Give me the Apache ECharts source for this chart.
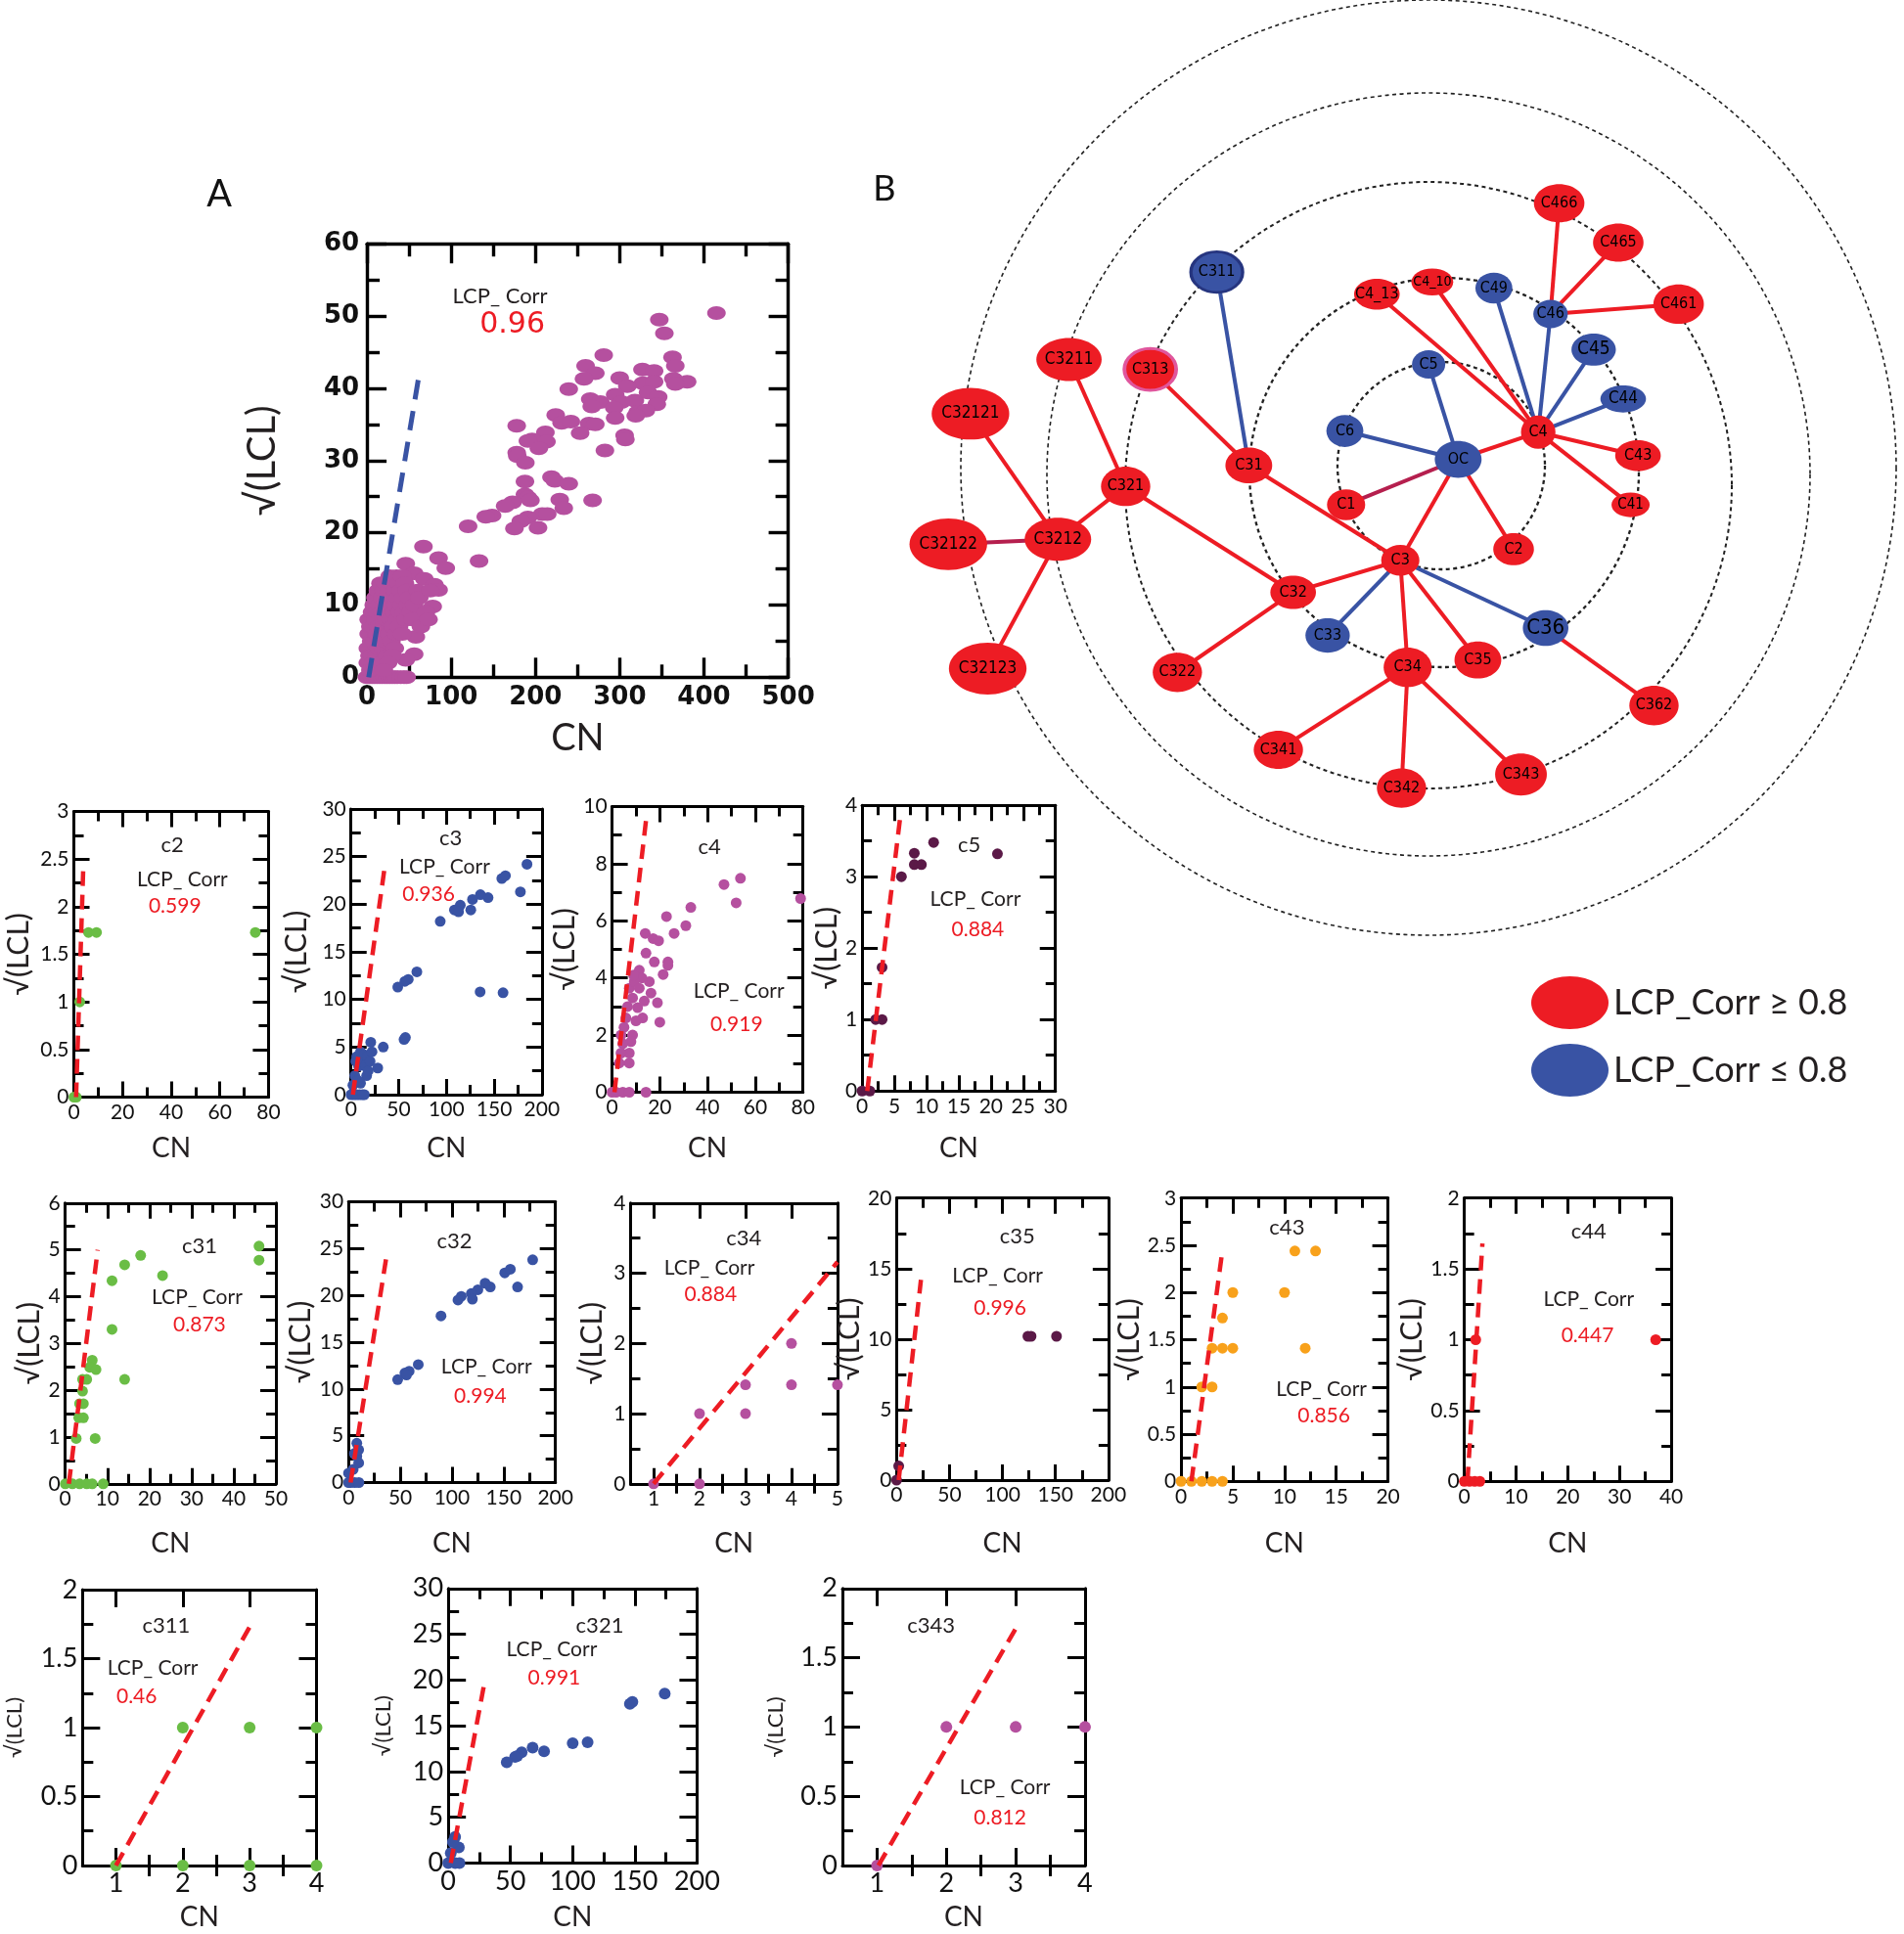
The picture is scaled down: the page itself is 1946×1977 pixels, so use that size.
<!DOCTYPE html>
<html>
<head>
<meta charset="utf-8">
<script src="https://cdn.jsdelivr.net/npm/echarts@6/dist/echarts.min.js"></script>
<style>
html,body{margin:0;padding:0;background:#fff;}
#chart{width:1946px;height:1977px;}
</style>
</head>
<body>
<div id="chart"></div>
<script>
// ======================= DATA =======================
// Panel A : all clusters
const mainPoints = [
 [414.8,50.4],[347,49.5],[353,47.6],[362.7,44.3],[366,43.1],[363.7,41.3],[380,40.9],[366,40.6],[281,44.6],[259.5,43.1],
 [271,42.1],[257.6,41.3],[239.5,39.9],[300,41.4],[327,42.6],[340.8,42.4],[327.5,40.7],[340.8,40.9],[309,40.3],[294.6,39.1],
 [302,38.1],[318,38.3],[333.6,39.4],[345.7,38.8],[344,37.8],[265,38.5],[277,38.1],[266.8,37.5],[293.5,37.3],[294.6,35.9],
 [321.4,36.7],[331,36.9],[319,36.2],[224,36.3],[231,35.2],[242,35.4],[263.6,35.1],[271,35.0],[253,33.8],[305.8,33.5],
 [306.7,32.9],[177.7,34.8],[211.8,33.9],[196,32.9],[191,32.7],[213,32.6],[204,31.7],[282.4,31.4],[177.7,31.1],[178.5,30.6],
 [188,29.7],[219,27.7],[223,27.2],[239.5,26.8],[187.5,27.1],[187.5,25.3],[191,24.9],[194,24.5],[172.8,24.2],[164,23.7],
 [228.8,24.6],[233.6,23.4],[267.8,24.5],[208,22.6],[214,22.6],[191,22.1],[182.6,21.6],[175,20.6],[203,20.7],[148.5,22.4],
 [141,22.2],[120,20.9],[133,16.1],[67,18.1],[85,16.5],[93.5,15.1],[46,15.7],[44,13.6],[56,14.4],[68,13.6],
 [80,12.8],[85,12.1],[78,9.8],[68,8.5],[58,5.6],[56,3.2],[46,2.4],
 [0,0],[3,0],[6,0],[9,0],[12,0],[15,0],[18,0],[21,0],[24,0],[27,0],[30,0],[33,0],[36,0],[40,0],[44,0],[47,0],
 [1,2],[1,4],[2,6],[2,8],[3,3],[4,7],[4,1],[5,5],[6,9],[6,3],[7,7],[8,2],[8,10],[9,5],[10,8],[10,11],[11,3],[12,6],
 [12,9],[13,12],[14,4],[14,7],[15,10],[16,2],[16,13],[17,6],[18,9],[18,11],[19,4],[20,7],[20,12],[21,10],[22,5],[22,13],
 [23,8],[24,11],[24,3],[25,9],[26,6],[26,12],[27,14],[28,8],[28,10],[29,5],[30,11],[30,13],[31,7],[32,9],[33,12],[33,4],
 [34,10],[35,14],[35,6],[36,8],[37,11],[38,13],[38,7],[39,9],[40,12],[41,10],[42,14],[42,6],[43,11],[44,9],[45,13],[46,8],
 [47,12],[48,10],[50,11],[52,9],[54,8],[56,10],[60,12],[62,11],[64,7],[70,9],[73,8],[75,12],[30,3],[25,2],[20,1]
];
const mainFit = [[2,0],[62,42]];
const mainCorr = '0.96';

const c2Points = [[0,0],[1,0],[2.4,1],[6,1.73],[9.3,1.73],[74.6,1.73]];
const c2Fit = [[0.9,0],[3.9,2.45]];
const c3Points = [[184.4,24.2],[158,22.7],[161.8,23.0],[177.5,21.3],[143.6,20.7],[135.6,21.0],[127.3,20.5],[125.5,19.4],
 [114.5,19.9],[108.4,19.4],[112.7,19.2],[93.5,18.2],[69,12.9],[60,12.1],[56.4,11.9],[49,11.3],[135.3,10.8],[159.3,10.7],
 [55.6,5.8],[57,6.0],[33.8,5.0],[20.7,5.5],[28,2.8],[16.4,2.0],[0,0],[3,0],[6,0],[9,0],[12,0],[14,0],[2,1],[4,2],
 [5,3.5],[6,4],[8,3],[10,4.5],[12,3.5],[14,4.2],[15,3],[17,4],[18,2.5],[20,3.5],[22,4.5],[10,1.2],[7,1.5]];
const c3Fit = [[2,0],[36,24.4]];
const c4Points = [[79,6.78],[53.8,7.49],[46.9,7.27],[52,6.63],[33,6.47],[22.8,6.15],[30.9,5.83],[26,5.56],[13.9,5.56],
 [17.2,5.38],[19.5,5.30],[23.4,4.56],[23.4,4.44],[21.4,4.12],[19,3.13],[20,2.45],[14.2,4.87],[11.4,4.27],[15.6,3.87],
 [16.3,3.47],[17.7,4.56],[12.5,4.0],[7.2,1.02],[3,1.02],[7.2,1.37],[3.75,2],[8.6,2],[12.8,2.6],[10.7,2.96],[8.6,3.3],
 [7.2,3.64],[9.3,3.87],[13.5,3.19],[5.8,2.6],[5,2.27],[3.75,1.37],[7.9,1.77],[11.4,3.64],[6.5,3.0],[10,2.5],[9,4.1],
 [4.5,1.7],[0,0],[1.7,0],[4.5,0],[7.2,0],[14.2,0]];
const c4Fit = [[1,0],[14.2,9.5]];
const c5Points = [[0,0],[1.2,0],[2.1,1],[3.1,1],[3.1,1.73],[6.1,3],[8.1,3.33],[8.1,3.17],[9.2,3.17],[11.1,3.48],[21,3.32]];
const c5Fit = [[0.8,0],[6,3.9]];
const c31Points = [[46,5.08],[46,4.78],[17.9,4.88],[14.1,4.68],[23.1,4.45],[11.1,4.34],[11.1,3.3],[14.1,2.23],[6.4,2.64],
 [5.8,2.49],[7.3,2.44],[4.1,2.23],[5.1,2.23],[4.1,1.98],[3.4,1.71],[4.3,1.71],[3.2,1.41],[4.3,1.41],[2.6,0.97],[7.1,0.97],
 [0,0],[1.7,0],[3.4,0],[5.1,0],[6.4,0],[9,0]];
const c31Fit = [[0.85,0],[7.7,5]];
const c32Points = [[178,23.8],[151,22.4],[156.4,22.8],[163.4,20.9],[137,20.9],[132,21.3],[125,20.6],[118.7,20.2],[119.7,19.6],
 [109,19.9],[105.8,19.5],[89.4,17.8],[67.4,12.6],[58.6,11.9],[54.5,11.7],[56,11.5],[47.5,11.0],[2,0],[6,0],[10,0],
 [4.5,1.4],[8,2.8],[5.6,3.1],[9.8,3.5],[8,4.2],[9.8,2.1],[0,1],[0,0]];
const c32Fit = [[2,0],[37,24.4]];
const c34Points = [[1,0],[2,0],[2,1],[3,1.41],[3,1],[4,2],[4,1.41],[5,1.41]];
const c34Fit = [[1,0],[5,3.16]];
const c35Points = [[0,0],[2,1],[124,10.2],[127,10.2],[151,10.2]];
const c35Fit = [[2,0],[23,14.2]];
const c43Points = [[0,0],[1,0],[2,0],[3,0],[4,0],[2,1],[3,1],[3,1.41],[4,1.41],[5,1.41],[4,1.73],[5,2],[10,2],[11,2.44],[13,2.44],[12,1.41]];
const c43Fit = [[1,0],[4,2.45]];
const c44Points = [[0,0],[1,0],[2,0],[3,0],[2.2,1],[37,1]];
const c44Fit = [[0.6,0],[3.5,1.68]];
const c311Points = [[1,0],[2,0],[3,0],[4,0],[2,1],[3,1],[4,1]];
const c311Fit = [[1,0],[3,1.73]];
const c321Points = [[174,18.5],[146,17.4],[148,17.6],[112,13.2],[100,13.1],[77,12.2],[67.8,12.6],[59,12.1],[55.5,11.7],
 [53.7,11.6],[47,11.0],[0,0],[5.5,0],[9,0],[5.5,2.85],[8.5,1.7],[2,1.1],[3.7,2.3]];
const c321Fit = [[2,0],[29.6,20.1]];
const c343Points = [[1,0],[2,1],[3,1],[4,1]];
const c343Fit = [[1.02,0],[3,1.71]];

const smallNames = ['c2','c3','c4','c5','c31','c32','c34','c35','c43','c44','c311','c321','c343'];
const smallCorr  = ['0.599','0.936','0.919','0.884','0.873','0.994','0.884','0.996','0.856','0.447','0.46','0.991','0.812'];
const smallPoints = [c2Points,c3Points,c4Points,c5Points,c31Points,c32Points,c34Points,c35Points,c43Points,c44Points,c311Points,c321Points,c343Points];
const smallFits = [c2Fit,c3Fit,c4Fit,c5Fit,c31Fit,c32Fit,c34Fit,c35Fit,c43Fit,c44Fit,c311Fit,c321Fit,c343Fit];
// axis ranges [min, max, interval]
const axisX = {A:[0,500,100], c2:[0,80,20], c3:[0,200,50], c4:[0,80,20], c5:[0,30,5], c31:[0,50,10], c32:[0,200,50],
 c34:[0.5,5,null], c35:[0,200,50], c43:[0,20,5], c44:[0,40,10], c311:[0.5,4,null], c321:[0,200,50], c343:[0.5,4,null]};
const axisY = {A:[0,60,10], c2:[0,3,0.5], c3:[0,30,5], c4:[0,10,2], c5:[0,4,1], c31:[0,6,1], c32:[0,30,5],
 c34:[0,4,1], c35:[0,20,5], c43:[0,3,0.5], c44:[0,2,0.5], c311:[0,2,0.5], c321:[0,30,5], c343:[0,2,0.5]};
const customXTicks = {c34:[1,2,3,4,5], c311:[1,2,3,4], c343:[1,2,3,4]};
const customXMinor = {c34:[1.5,2.5,3.5,4.5], c311:[1.5,2.5,3.5], c343:[1.5,2.5,3.5]};

// Panel B : network
const nodeNames = ['OC','C1','C2','C3','C4','C5','C6','C31','C32','C33','C34','C35','C36','C41','C43','C44','C45','C46','C49','C4_10','C4_13',
 'C311','C313','C321','C322','C341','C342','C343','C362','C461','C465','C466','C3211','C3212','C32121','C32122','C32123'];
const nodeX = [1184,1093,1229,1137,1249,1160,1092,1014,1050,1078,1143,1200,1255,1324,1330,1318,1294,1259,1213,1163,1118,
 988,934,914,956,1038,1138,1235,1343,1363,1314,1266,868,859,788,770,802];
const nodeY = [373,410,446,455,351,296,350,378,481,516,542,536,510,410,370,324,284,255,234,229,239,
 221,300,395,546,609,640,629,573,247,197,165,292,438,336,442,543];
const nodeHighCorr = [0,1,1,1,1,0,0,1,1,0,1,1,0,1,1,0,0,0,0,1,1, 0,1,1,1,1,1,1,1,1,1,1,1,1,1,1,1];
const edgeSource = ['OC','OC','OC','OC','OC','OC','C4','C4','C4','C4','C4','C4','C4','C4','C46','C46','C46',
 'C3','C3','C3','C3','C3','C3','C31','C31','C32','C32','C321','C321','C3212','C3212','C3212','C34','C34','C34','C36'];
const edgeTarget = ['C1','C2','C3','C4','C5','C6','C4_13','C4_10','C49','C46','C45','C44','C43','C41','C466','C465','C461',
 'C31','C32','C33','C34','C35','C36','C311','C313','C321','C322','C3211','C3212','C32121','C32122','C32123','C341','C342','C343','C362'];
const legendLabels = ['LCP_Corr \u2265 0.8','LCP_Corr \u2264 0.8'];

// ======================= LAYOUT & STYLE =======================
const S = 1946 / 1546;
const INK = '#231f20', RED = '#ed1c24', BLUE = '#3953a4', GREEN = '#6abd45', MAG = '#b5509f', PURP = '#5b1947', ORANGE = '#f8a11b';
const FONT_H = "Lato, 'Open Sans', sans-serif";
const FONT_G = "'DejaVu Sans', sans-serif";
const FONT_N = "'Liberation Sans Narrow', 'DejaVu Sans Condensed', 'Roboto', sans-serif";
const ELL = 'path://M1,0C1.552,0,2,0.448,2,1C2,1.552,1.552,2,1,2C0.448,2,0,1.552,0,1C0,0.448,0.448,0,1,0Z';

const panelLayout = {
 c2:  {box:[60,659,218,891],  row:1, yNameX:15,  label:[140,686], lcp:[148,714], val:[142,736], color:GREEN},
 c3:  {box:[285,657,440,889], row:1, yNameX:241, label:[366,681], lcp:[361,704], val:[348,726], color:BLUE},
 c4:  {box:[497,655,652,887], row:1, yNameX:467, label:[576,688], lcp:[600,805], val:[598,832], color:MAG},
 c5:  {box:[700,654,857,886], row:1, yNameX:675, label:[787,686], lcp:[792,730], val:[794,755], color:PURP},
 c31: {box:[53,977,224,1205], row:2, yNameX:25,  label:[162,1012], lcp:[160,1054], val:[162,1076], color:GREEN},
 c32: {box:[283,976,451,1204], row:2, yNameX:244, label:[369,1008], lcp:[395,1110], val:[390,1134], color:BLUE},
 c34: {box:[512,977,680,1205], row:2, yNameX:481, label:[604,1006], lcp:[576,1030], val:[577,1051], color:MAG},
 c35: {box:[728,973,900,1202], row:2, yNameX:698, label:[826,1004], lcp:[810,1036], val:[812,1062], color:PURP},
 c43: {box:[959,973,1127,1203], row:2, yNameX:919, label:[1045,997], lcp:[1073,1128], val:[1075,1150], color:ORANGE},
 c44: {box:[1189,973,1357,1203], row:2, yNameX:1147, label:[1290,1000], lcp:[1290,1055], val:[1289,1085], color:RED},
 c311:{box:[67,1291,257,1515], row:3, yNameX:12,  label:[135,1320], lcp:[124,1355], val:[111,1378], color:GREEN},
 c321:{box:[364,1290,566,1513], row:3, yNameX:311, label:[487,1320], lcp:[448,1340], val:[450,1363], color:BLUE},
 c343:{box:[684,1290,881,1515], row:3, yNameX:630, label:[756,1320], lcp:[816,1452], val:[812,1476], color:MAG}
};
const rowStyle = {
 1:{xNameY:933, fs:21, yFs:30, xFs:28, major:16, minor:10, sym:11},
 2:{xNameY:1254, fs:21, yFs:30, xFs:28, major:16, minor:10, sym:11},
 3:{xNameY:1557, fs:27, yFs:22, xFs:28, major:18, minor:11, sym:12}
};

const nodeSize = {OC:[38,30],C1:[31,25],C2:[33,26],C3:[31,25],C4:[28,27],C5:[27,23],C6:[30,26],C31:[38,29],C32:[37,27],
 C33:[36,28],C34:[39,32],C35:[38,30],C36:[37,29],C41:[31,20],C43:[37,25],C44:[37,22],C45:[36,26],C46:[28,23],C49:[30,25],
 C4_10:[34,22],C4_13:[37,25],C311:[42,33],C313:[42,34],C321:[40,32],C322:[40,32],C341:[40,31],C342:[40,32],C343:[42,34],
 C362:[40,32],C461:[41,32],C465:[41,31],C466:[41,31],C3211:[53,35],C3212:[54,35],C32121:[63,42],C32122:[63,42],C32123:[63,42]};
const nodeLabelSize = {C36:22, C45:19, C44:17, C4_10:14, C41:15, C3211:17, C3212:17, C32121:17, C32122:17, C32123:17};
const nodeBorder = {C311:{borderColor:'#26357f', borderWidth:3}, C313:{borderColor:'#e0569d', borderWidth:3.5}};
const edgeTint = {'OC-C1':'#b51f4e', 'C3212-C32122':'#b51f4e'};
const rings = [ // center x, center y, radius (page px), line width
 [1473,476,106,2.3],[1476,483,199,2.3],[1460,496,310,2],[1460,485,390,1.6],[1460,478,478,1.6]
];

// ======================= BUILD =======================
const option = {animation:false, backgroundColor:'#fff', textStyle:{fontFamily:FONT_H},
 grid:[], xAxis:[], yAxis:[], polar:[], angleAxis:[], radiusAxis:[], series:[], graphic:[]};

function addPanel(p){
  const gi = option.grid.length;
  const L = p.box[0]*S, T = p.box[1]*S, R = p.box[2]*S, B = p.box[3]*S;
  option.grid.push({left:L, top:T, width:R-L, height:B-T});
  const lineStyle = {color:'#000', width:p.lw};
  function axis(spec, pos, withLabel, ticks, name, nameFs, nameGap){
    const a = {gridIndex:gi, type:'value', position:pos, min:spec[0], max:spec[1], silent:true, z:3,
      axisLine:{show:true, onZero:false, lineStyle:lineStyle}, splitLine:{show:false},
      axisTick:{show:true, inside:true, length:p.major, lineStyle:lineStyle},
      minorTick:{show:!ticks, splitNumber:2, length:p.minor, lineStyle:lineStyle},
      axisLabel:{show:withLabel, fontFamily:p.font, fontSize:p.fs, fontWeight:p.fw||'normal', color:'#111', margin:p.margin}};
    if (ticks){ a.axisTick.customValues = ticks; a.axisLabel.customValues = ticks; }
    else a.interval = spec[2];
    if (name){ a.name = name; a.nameLocation = 'middle'; a.nameGap = nameGap;
      a.nameTextStyle = {fontFamily:FONT_H, fontSize:nameFs, color:INK}; }
    return a;
  }
  const xi = option.xAxis.length, yi = option.yAxis.length;
  option.xAxis.push(axis(p.x,'bottom',true,p.xTicks,'CN',p.xFs,(p.xNameY*S - B) - p.xFs/2));
  option.xAxis.push(axis(p.x,'top',false,p.xTicks));
  option.yAxis.push(axis(p.y,'left',true,null,'\u221A(LCL)',p.yFs,(L - p.yNameX*S) - p.yFs/2));
  option.yAxis.push(axis(p.y,'right',false,null));
  if (p.xMinor){
    for (const pos of ['bottom','top']) option.xAxis.push({gridIndex:gi, type:'value', position:pos, min:p.x[0], max:p.x[1],
      silent:true, axisLine:{show:false}, splitLine:{show:false}, axisLabel:{show:false},
      axisTick:{show:true, inside:true, length:p.minor, lineStyle:lineStyle, customValues:p.xMinor}});
  }
  option.series.push({type:'scatter', xAxisIndex:xi, yAxisIndex:yi, data:p.pts, symbol:p.sym, symbolSize:p.symSize,
    itemStyle:{color:p.color, opacity:1}, clip:false, z:4, silent:true});
  option.series.push({type:'line', xAxisIndex:xi, yAxisIndex:yi, data:p.fit, symbol:'none', clip:false, z:5, silent:true,
    lineStyle:{color:p.fitColor, width:p.fitW, type:p.dash}});
  for (const t of p.texts) option.graphic.push({type:'text', x:t[1]*S, y:t[2]*S, silent:true, z:10,
    style:{text:t[0], fill:t[4], fontSize:t[3], fontFamily:t[5], align:'center', verticalAlign:'middle'}});
}

// Panel A
addPanel({box:[298,198,640,550], x:axisX.A, y:axisY.A, pts:mainPoints, fit:mainFit, color:MAG, fitColor:BLUE,
  sym:ELL, symSize:[19,14], font:FONT_G, fs:26, fw:'bold', margin:8, major:20, minor:13, lw:3.4, fitW:5, dash:[20,12],
  yNameX:213, yFs:40, xNameY:600, xFs:38,
  texts:[['LCP_ Corr',406,241,22,INK,FONT_H],[mainCorr,416,264,30,RED,FONT_G]]});

smallNames.forEach((n,i)=>{
  const lay = panelLayout[n], rs = rowStyle[lay.row];
  addPanel({box:lay.box, x:axisX[n], y:axisY[n], xTicks:customXTicks[n], xMinor:customXMinor[n],
    pts:smallPoints[i], fit:smallFits[i], color:lay.color, fitColor:RED, sym:'circle', symSize:rs.sym,
    font:FONT_H, fs:rs.fs, margin:5, major:rs.major, minor:rs.minor, lw:3, fitW:4.5, dash:[15,9],
    yNameX:lay.yNameX, yFs:rs.yFs, xNameY:rs.xNameY, xFs:rs.xFs,
    texts:[[n,lay.label[0],lay.label[1],22,INK,FONT_H],['LCP_ Corr',lay.lcp[0],lay.lcp[1],21,INK,FONT_H],
           [smallCorr[i],lay.val[0],lay.val[1],21,RED,FONT_H]]});
});

// panel letters
option.graphic.push({type:'text', x:178*S, y:158*S, silent:true, style:{text:'A', fill:'#111', fontSize:38, fontFamily:FONT_H, align:'center', verticalAlign:'middle'}});
option.graphic.push({type:'text', x:718*S, y:154*S, silent:true, style:{text:'B', fill:'#111', fontSize:36, fontFamily:FONT_H, align:'center', verticalAlign:'middle'}});

// Panel B rings
rings.forEach((r,i)=>{
  option.polar.push({center:[r[0], r[1]], radius:r[2]});
  option.angleAxis.push({polarIndex:i, type:'value', min:0, max:360, silent:true,
    axisLine:{show:true, lineStyle:{color:'#222', width:r[3], type:[4,3.5]}},
    axisTick:{show:false}, axisLabel:{show:false}, splitLine:{show:false}});
  option.radiusAxis.push({polarIndex:i, type:'value', axisLine:{show:false}, axisTick:{show:false}, axisLabel:{show:false}, splitLine:{show:false}});
});

// Panel B network on a hidden cartesian frame
const ng = option.grid.length;
option.grid.push({left:700*S, top:0, width:846*S, height:730*S});
const nx = option.xAxis.length, ny = option.yAxis.length;
option.xAxis.push({gridIndex:ng, type:'value', min:700, max:1546, show:false});
option.yAxis.push({gridIndex:ng, type:'value', min:0, max:730, inverse:true, show:false});
option.series.push({
  type:'graph', layout:'none', coordinateSystem:'cartesian2d', xAxisIndex:nx, yAxisIndex:ny, silent:true, z:6,
  categories: legendLabels.map((n,i)=>({name:n, symbol:ELL, itemStyle:{color: i===0 ? RED : BLUE}})),
  data: nodeNames.map((n,i)=>({name:n, value:[nodeX[i], nodeY[i]], category: nodeHighCorr[i] ? 0 : 1,
     symbol:ELL, symbolSize: nodeSize[n].map(v=>v*S), itemStyle: nodeBorder[n] || {},
     label:{fontSize: nodeLabelSize[n] || 16}})),
  links: edgeSource.map((s,i)=>{
     const t = edgeTarget[i];
     const c = edgeTint[s+'-'+t] || (nodeHighCorr[nodeNames.indexOf(t)] ? RED : BLUE);
     return {source:s, target:t, lineStyle:{color:c}};
  }),
  label:{show:true, position:'inside', color:'#000', fontFamily:FONT_N, fontSize:16},
  lineStyle:{width:4, opacity:1, curveness:0},
  emphasis:{disabled:true}
});
option.legend = {data: legendLabels.map(n=>({name:n, icon:ELL})), orient:'vertical', left:1560, top:993,
  itemWidth:79, itemHeight:54, itemGap:15, symbolKeepAspect:false, selectedMode:false,
  textStyle:{fontFamily:FONT_H, fontSize:36, color:INK}};

const chart = echarts.init(document.getElementById('chart'), null, {renderer:'canvas'});
chart.setOption(option);
</script>
</body>
</html>
